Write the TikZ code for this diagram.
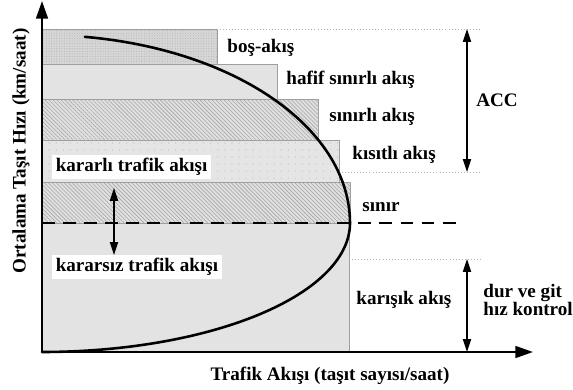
\documentclass[tikz,border=0pt]{standalone}
\usepackage{fontspec}
\setmainfont{Liberation Serif}
\usetikzlibrary{patterns.meta,arrows.meta,positioning}
\tikzset{
myAxis/.style={
	line width=2pt, -{Triangle[length=15pt,width=10pt]}
}
, myBand/.style={
	draw=gray!75, line width=0.6pt
}
, myPlain/.style={myBand, fill=gray!22}
, myHatch/.style={
	myBand, preaction={fill=gray!24},
	pattern={Lines[angle=-45,distance=2.4pt,line width=0.5pt]}, pattern color=gray!70
}
, myDense/.style={
	myBand, preaction={fill=gray!32},
	pattern={Dots[distance=2.2pt,radius=0.45pt]}, pattern color=gray!60
}
, myDots/.style={
	myBand, preaction={fill=gray!20},
	pattern={Dots[distance=6pt,radius=0.5pt]}, pattern color=gray!55
}
% lines
, myGuide/.style={draw=gray!60, dotted, line width=0.6pt}
, myLimit/.style={line width=2pt, dash pattern=on 11pt off 7pt}
, myCurve/.style={line width=2.2pt, line cap=round}
, myDim/.style={line width=1pt, {Triangle[length=11pt,width=7pt]}-{Triangle[length=11pt,width=7pt]}}
% texts
, myLabel/.style={font=\fontsize{16.3}{13.6}\selectfont\bfseries, inner sep=1pt}
, myBox/.style={myLabel, fill=white, inner sep=3pt}
}

\begin{document}
\begin{tikzpicture}[x=0.03cm,y=-0.03cm]
	\useasboundingbox (0,0) rectangle (573,389);
	% bands
	\draw[myDense] (42,29) rectangle (217,64);
	\draw[myPlain] (42,64) rectangle (277,99);
	\draw[myHatch] (42,99) rectangle (318,140);
	\draw[myDots] (42,140) rectangle (339,182);
	\draw[myHatch] (42,182) rectangle (350,223);
	\draw[myPlain] (42,223) rectangle (349,352);
	% guide lines
	\coordinate (accTop) at (467,29);
	\coordinate (accBot) at (467,172);
	\coordinate (stopTop) at (467,259);
	\coordinate (stopBot) at (467,352);
	\draw[myGuide] (217,29) -- (480,29);
	\draw[myGuide] (339,172) -- (480,172);
	\draw[myGuide] (349,259) -- (482,259);
	% limit
	\coordinate (limL) at (42,223);
	\coordinate (limR) at (462,223);
	\draw[myLimit] (limL) -- (limR);
	% curve
	\draw[myCurve] plot[domain=82:-90,samples=120]
		({42+308*cos(\x)},{223-(\x>0?188:129)*sin(\x)});
	% axes
	\coordinate (O) at (42,352);
	\coordinate (yTip) at (42,1);
	\coordinate (xTip) at (533,352);
	\draw[myAxis] (O) -- (yTip);
	\draw[myAxis] (O) -- (xTip);
	% band labels
	\node[myLabel, anchor=west] (free) at (226,48) {boş-akış};
	\node[myLabel, anchor=west] (light) at (285,80) {hafif sınırlı akış};
	\node[myLabel, anchor=west] (limited) at (328,117) {sınırlı akış};
	\node[myLabel, anchor=west] (restricted) at (351,155) {kısıtlı akış};
	\node[myLabel, anchor=west] (bound) at (361,207) {sınır};
	\node[myLabel, anchor=west] (mixed) at (355,300) {karışık akış};
	% stability
	\node[myBox, anchor=west] (stable) at (52,167) {kararlı trafik akışı};
	\node[myBox, anchor=west] (unstable) at (52,267) {kararsız trafik akışı};
	\coordinate (stabTop) at (114,188);
	\coordinate (stabBot) at (114,255);
	\draw[myDim] (stabTop) -- (stabBot);
	% ranges
	\draw[myDim] (accTop) -- (accBot);
	\draw[myDim] (stopTop) -- (stopBot);
	\node[myLabel] (acc) at (497,100) {ACC};
	\node[myLabel, anchor=west, align=left] (stop) at (482,300) {dur ve git\\hız kontrol};
	% axis titles
	\node[myLabel] (xTitle) at (330,376) {Trafik Akışı (taşıt sayısı/saat)};
	\node[myLabel, rotate=90] (yTitle) at (21,151) {Ortalama Taşıt Hızı (km/saat)};
\end{tikzpicture}
\end{document}
